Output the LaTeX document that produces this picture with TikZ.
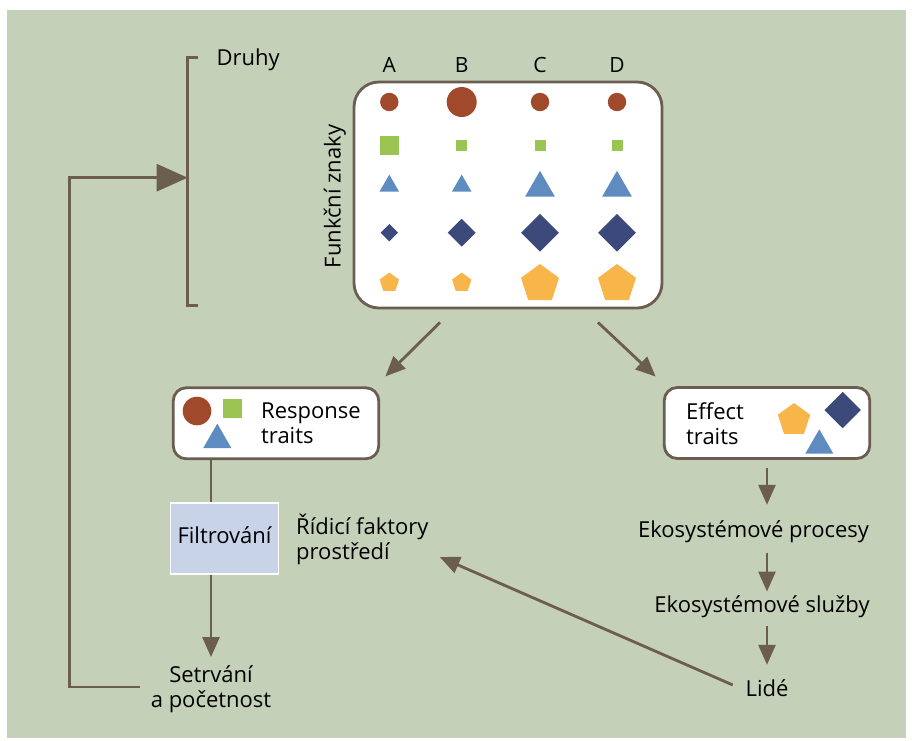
\documentclass[tikz,border=0pt]{standalone}
\usepackage{fontspec}
\setmainfont{Open Sans}
\usetikzlibrary{arrows.meta,shapes.geometric}

\definecolor{sage}{HTML}{C5D0B9}
\definecolor{bark}{HTML}{6B5D50}
\definecolor{rust}{HTML}{A14A2B}
\definecolor{leaf}{HTML}{9BC553}
\definecolor{sky}{HTML}{5F8CC0}
\definecolor{navy}{HTML}{3B4A7A}
\definecolor{amber}{HTML}{F8B54A}
\definecolor{haze}{HTML}{C8D3E8}

\tikzset{
  txt/.style={inner sep=0pt,text height=15.5pt,text depth=5pt,font=\fontsize{22}{25}\selectfont},
  lines/.style={inner sep=0pt,font=\fontsize{22}{25}\selectfont},
  box/.style={draw=bark,fill=white,line width=2.8pt},
  link/.style={draw=bark,line width=2.8pt},
  arr/.style={link,-{Triangle[length=20pt,width=17pt]}},
  dot/.style={circle,fill=rust,inner sep=0pt,minimum size=#1},
  sqr/.style={rectangle,fill=leaf,inner sep=0pt,minimum size=#1},
  tri/.style={regular polygon,regular polygon sides=3,fill=sky,inner sep=0pt,minimum size=#1},
  dia/.style={diamond,fill=navy,inner sep=0pt,minimum size=#1},
  pent/.style={regular polygon,regular polygon sides=5,fill=amber,inner sep=0pt,minimum size=#1}
}

\begin{document}
\begin{tikzpicture}[x=1pt,y=-1pt]
\useasboundingbox[fill=white] (0,0) rectangle (912,740);
\fill[sage] (7,10) rectangle (906,738);

% species bracket
\node[txt,anchor=base west] (druhy) at (216.5,65.7) {Druhy};
\draw[link] (198,57.3) -- (187.7,57.3) -- (187.7,305.7) -- (198,305.7);
\coordinate (druhymid) at (187.7,177.7);

% trait matrix
\node[box,rounded corners=25pt,minimum width=308pt,minimum height=226pt] (traits) at (508,195) {};
\node[txt,rotate=90,anchor=base] (fz) at (340.7,196.5) {Funkční znaky};
\node[txt,font=\fontsize{21}{24}\selectfont,anchor=base] (colA) at (389.3,72.7) {A};
\node[txt,font=\fontsize{21}{24}\selectfont,anchor=base] (colB) at (461.7,72.7) {B};
\node[txt,font=\fontsize{21}{24}\selectfont,anchor=base] (colC) at (540,72.7) {C};
\node[txt,font=\fontsize{21}{24}\selectfont,anchor=base] (colD) at (617,72.7) {D};

\node[dot=18.4] (dotA) at (389.3,102) {};
\node[dot=30] (dotB) at (461.7,102) {};
\node[dot=18.4] (dotC) at (540,102) {};
\node[dot=18.4] (dotD) at (617,102) {};

\node[sqr=19] (sqrA) at (389.3,145) {};
\node[sqr=11] (sqrB) at (461.7,145) {};
\node[sqr=11] (sqrC) at (540.3,145) {};
\node[sqr=11] (sqrD) at (617,145) {};

\node[tri=22.7] (triA) at (389.3,186) {};
\node[tri=22.7] (triB) at (461.7,186) {};
\node[tri=34.3] (triC) at (540,188) {};
\node[tri=34.3] (triD) at (617,188) {};

\node[dia=17.5] (diaA) at (389.3,232.7) {};
\node[dia=28] (diaB) at (461.7,232.7) {};
\node[dia=38] (diaC) at (540,232.7) {};
\node[dia=38] (diaD) at (617,232.7) {};

\node[pent=20.3] (pentA) at (389.3,282.7) {};
\node[pent=20.3] (pentB) at (461.7,282.7) {};
\node[pent=40] (pentC) at (540,284) {};
\node[pent=40] (pentD) at (617,284) {};

% response traits
\node[box,rounded corners=13pt,minimum width=205.5pt,minimum height=71pt] (resp) at (276,423.3) {};
\node[dot=28.6] (respdot) at (197,411) {};
\node[sqr=19] (respsqr) at (232.3,408.3) {};
\node[tri=32.7] (resptri) at (217.3,440) {};
\node[lines,anchor=west,align=left] (resptxt) at (261,423.6) {Response\\traits};

% effect traits
\node[box,rounded corners=13pt,minimum width=205.5pt,minimum height=71pt] (eff) at (767,423) {};
\node[lines,anchor=west,align=left] (efftxt) at (686,423.2) {Effect\\traits};
\node[pent=34] (effpent) at (794,420) {};
\node[dia=36.6] (effdia) at (842.7,410) {};
\node[tri=32.3] (efftri) at (819.3,445.5) {};

% left branch
\node[txt,fill=haze,draw=white,line width=1.5pt,minimum width=108pt,minimum height=71pt] (filt) at (224.5,538.5) {Filtrování};
\node[lines,anchor=west,align=left] (fact) at (296,539) {Řídicí faktory\\prostředí};
\node[lines,align=center] (setr) at (211,689) {Setrvání\\a početnost};

% right branch
\node[txt,anchor=base] (proc) at (753.5,537.7) {Ekosystémové procesy};
\node[txt,anchor=base] (serv) at (762,612.3) {Ekosystémové služby};
\node[txt,anchor=base] (lide) at (767,696.7) {Lidé};

% connectors
\draw[arr] ([xshift=-68pt,yshift=-13pt]traits.south) -- ([xshift=5.2pt,yshift=10pt]resp.north east);
\draw[arr] ([xshift=90pt,yshift=-13pt]traits.south) -- ([xshift=-7.2pt,yshift=9.5pt]eff.north west);
\draw[link] (resp.south -| setr) -- (filt.north -| setr);
\draw[arr] (filt.south -| setr) -- ([yshift=8.2pt]setr.north);
\draw[arr] ([yshift=-8.5pt]eff.south) -- ([yshift=17.2pt]proc.north -| eff.south);
\draw[arr] ([yshift=-10pt]proc.south -| eff.south) -- ([yshift=5.1pt]serv.north -| eff.south);
\draw[arr] ([yshift=-8.7pt]serv.south -| eff.south) -- ([yshift=16.2pt]lide.north);
\draw[arr] ([xshift=-12.7pt,yshift=6.5pt]lide.west) -- ([xshift=11pt,yshift=-18pt]fact.east);
\draw[link,-{Triangle[length=31pt,width=27pt]}] ([xshift=-11pt,yshift=2pt]setr.west) -- ++(-70,0) |- (druhymid);
\end{tikzpicture}
\end{document}
